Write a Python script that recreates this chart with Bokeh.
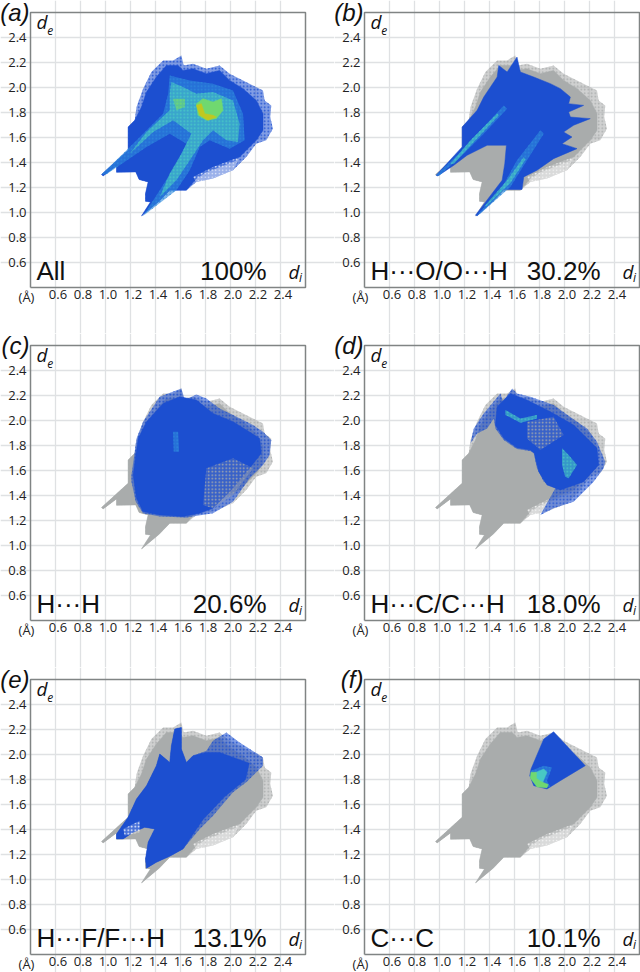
from bokeh.embed import file_html
from bokeh.resources import INLINE
from bokeh.plotting import figure
from bokeh.layouts import column, row
from bokeh.models import FixedTicker, Label, LinearAxis, Range1d, NumeralTickFormatter

TICKS = [0.6, 0.8, 1.0, 1.2, 1.4, 1.6, 1.8, 2.0, 2.2, 2.4]
PANEL_LETTERS = ["(a)", "(b)", "(c)", "(d)", "(e)", "(f)"]
CONTACTS = ["All", "H···O/O···H", "H···H", "H···C/C···H", "H···F/F···H", "C···C"]
PERCENTS = ["100%", "30.2%", "20.6%", "18.0%", "13.1%", "10.1%"]
FRAME_DI = [0.4, 2.6, 2.6, 0.4, 0.4]
FRAME_DE = [0.4, 0.4, 2.6, 2.6, 0.4]

GRAY, BLUE, MID, CYAN, GREEN, YELLOW = "#a9acac", "#1c4fd0", "#2d88dc", "#48c8c4", "#70d870", "#c0c820"

OUTER_DI = [1.288,1.36,1.32,1.32,1.341,1.269,1.242,1.088,1.088,0.981,0.968,1.181,1.181,1.234,1.248,1.301,1.367,1.461,1.541,1.607,1.626,1.70,1.807,1.913,1.993,2.10,2.26,2.273,2.326,2.318,2.339,2.286,2.206,2.126,2.02,1.86,1.727,1.647,1.514,1.429]
OUTER_DE = [0.973,1.085,1.09,1.152,1.245,1.264,1.325,1.322,1.373,1.293,1.304,1.498,1.684,1.738,1.844,1.991,2.124,2.217,2.217,2.257,2.177,2.19,2.15,2.177,2.11,2.057,1.977,1.897,1.857,1.764,1.671,1.578,1.551,1.445,1.338,1.272,1.245,1.178,1.178,1.09]
CORE_DI = [1.288,1.36,1.32,1.32,1.341,1.269,1.242,1.088,1.088,0.981,0.968,1.181,1.181,1.234,1.288,1.328,1.407,1.487,1.581,1.62,1.70,1.807,1.913,1.993,2.10,2.206,2.26,2.26,2.206,2.126,2.047,1.913,1.807,1.727,1.647,1.514,1.429]
CORE_DE = [0.973,1.085,1.09,1.152,1.245,1.264,1.325,1.322,1.373,1.293,1.304,1.498,1.684,1.738,1.844,1.964,2.084,2.177,2.177,2.137,2.15,2.11,2.137,2.057,1.991,1.897,1.791,1.658,1.578,1.498,1.418,1.365,1.325,1.272,1.178,1.178,1.09]
HOLES_DI = [1.70,1.86,2.073,2.02,1.86,1.727]
HOLES_DE = [1.285,1.365,1.445,1.338,1.272,1.245]

A_MID_DI = [1.514,1.674,1.86,2.02,2.10,2.113,1.993,1.834,1.754,1.674,1.567,1.30,1.434,1.567,1.647,1.514,1.328,1.008,0.968,1.221,1.461,1.501]
A_MID_DE = [2.097,2.057,2.031,1.977,1.791,1.578,1.511,1.578,1.525,1.338,1.178,0.973,1.178,1.391,1.551,1.631,1.525,1.306,1.304,1.551,1.791,1.951]
A_CYAN_DI = [1.527,1.62,1.727,1.86,2.02,2.073,2.06,1.967,1.86,1.78,1.674,1.567,1.434,1.514,1.607,1.687,1.541,1.381,1.194,1.328,1.514,1.514]
A_CYAN_DE = [2.044,2.004,1.951,1.964,1.897,1.711,1.565,1.578,1.658,1.578,1.418,1.258,1.125,1.312,1.471,1.631,1.738,1.644,1.471,1.644,1.818,1.951]
A_GREEN1_DI = [1.727,1.78,1.86,1.927,1.94,1.887,1.807,1.74]
A_GREEN1_DE = [1.871,1.911,1.884,1.911,1.818,1.751,1.738,1.778]
A_GREEN2_DI = [1.541,1.634,1.634,1.567]
A_GREEN2_DE = [1.911,1.911,1.844,1.818]
A_YELLOW_DI = [1.727,1.767,1.794,1.86,1.887,1.82,1.754]
A_YELLOW_DE = [1.857,1.871,1.79,1.778,1.764,1.738,1.778]

B_BLUE_DI = [0.973,1.181,1.181,1.301,1.354,1.461,1.474,1.541,1.62,1.647,1.754,1.887,1.967,2.047,2.033,2.153,2.033,2.047,2.206,2.073,1.993,2.06,1.98,2.10,1.913,1.78,1.674,1.66,1.514,1.421,1.301,1.288,1.501,1.522,1.535,1.381,1.221,1.115,0.987]
B_BLUE_DE = [1.298,1.525,1.684,1.818,1.924,2.084,2.177,2.124,2.244,2.124,2.084,2.031,1.991,1.924,1.871,1.857,1.804,1.764,1.751,1.698,1.644,1.604,1.551,1.511,1.431,1.338,1.285,1.184,1.184,1.085,0.973,0.979,1.258,1.391,1.538,1.538,1.458,1.378,1.293]
B_MID1_DI = [0.973,1.168,1.328,1.514,1.541,1.354,1.194,0.995]
B_MID1_DE = [1.298,1.485,1.658,1.857,1.831,1.631,1.471,1.293]
B_MID2_DI = [1.293,1.487,1.62,1.807,1.834,1.70,1.567,1.328]
B_MID2_DE = [0.973,1.178,1.418,1.658,1.631,1.418,1.205,0.992]
B_CYAN1_DI = [1.088,1.248,1.461,1.474,1.274,1.115]
B_CYAN1_DE = [1.391,1.578,1.791,1.778,1.565,1.391]
B_CYAN2_DI = [1.354,1.541,1.674,1.687,1.567,1.381]
B_CYAN2_DE = [1.045,1.258,1.445,1.423,1.237,1.059]

C_FRINGE_DI = [1.208,1.248,1.301,1.434,1.501,1.607,1.634,1.727,1.807,1.913,2.02,2.18,2.26,2.326,2.313,2.26,2.153,2.02,1.86,1.647,1.434,1.30,1.242,1.208]
C_FRINGE_DE = [1.565,1.857,1.991,2.19,2.217,2.257,2.164,2.209,2.177,2.097,2.044,1.964,1.911,1.844,1.724,1.644,1.538,1.351,1.258,1.224,1.232,1.258,1.351,1.511]
C_SOLID_DI = [1.221,1.261,1.328,1.461,1.594,1.727,1.86,2.02,2.233,2.246,2.153,1.993,1.86,1.754,1.62,1.434,1.30,1.248]
C_SOLID_DE = [1.565,1.857,1.991,2.137,2.19,2.164,2.057,1.991,1.857,1.738,1.618,1.431,1.298,1.258,1.232,1.245,1.272,1.378]
C_SPECK_DI = [1.807,2.02,2.18,2.02,1.86,1.78]
C_SPECK_DE = [1.618,1.698,1.618,1.405,1.298,1.325]
C_MID_DI = [1.541,1.581,1.589,1.546]
C_MID_DE = [1.911,1.911,1.751,1.751]

D_FRINGE_DI = [1.248,1.274,1.354,1.487,1.509,1.581,1.62,1.727,1.913,2.10,2.18,2.26,2.326,2.313,2.233,2.073,1.913,1.807,1.927,1.834,1.78,1.754,1.727,1.62,1.514,1.447,1.434,1.381,1.301]
D_FRINGE_DE = [1.818,1.937,2.057,2.217,2.15,2.257,2.217,2.19,2.124,1.991,1.937,1.831,1.671,1.618,1.511,1.351,1.298,1.245,1.458,1.511,1.618,1.738,1.756,1.772,1.844,1.937,2.017,1.937,1.897]
D_SOLID_DI = [1.447,1.461,1.567,1.70,1.887,2.073,2.26,2.273,2.153,1.967,1.86,1.794,1.759,1.727,1.62,1.514]
D_SOLID_DE = [1.964,2.11,2.217,2.164,2.07,1.964,1.778,1.644,1.511,1.445,1.485,1.591,1.738,1.764,1.783,1.858]
D_SPECK_DI = [1.70,1.913,1.993,1.807,1.70]
D_SPECK_DE = [1.991,2.03,1.884,1.764,1.857]
D_CYAN1_DI = [1.527,1.647,1.78,1.78,1.647,1.527]
D_CYAN1_DE = [2.084,2.017,2.044,2.017,1.983,2.044]
D_CYAN2_DI = [1.98,2.033,2.10,2.033,2.006,1.98]
D_CYAN2_DE = [1.778,1.724,1.644,1.538,1.551,1.644]

E_FRINGE_DI = [1.088,1.088,1.181,1.248,1.328,1.407,1.434,1.514,1.527,1.554,1.607,1.607,1.647,1.70,1.807,1.86,1.967,2.073,2.26,2.26,2.126,2.02,1.86,1.754,1.62,1.514,1.407,1.328,1.32,1.341,1.394,1.314,1.221,1.141]
E_FRINGE_DE = [1.325,1.365,1.498,1.644,1.751,1.911,2.004,1.937,2.07,2.204,2.217,2.044,1.937,1.991,2.031,2.11,2.177,2.097,1.977,1.911,1.778,1.698,1.511,1.405,1.245,1.186,1.138,1.091,1.165,1.298,1.405,1.418,1.378,1.325]
E_SOLID_DI = [1.088,1.088,1.181,1.248,1.328,1.407,1.434,1.514,1.527,1.554,1.607,1.607,1.647,1.70,1.807,1.913,2.15,2.12,1.95,1.78,1.62,1.514,1.407,1.328,1.32,1.341,1.394,1.314,1.221,1.141]
E_SOLID_DE = [1.325,1.365,1.498,1.644,1.751,1.911,2.004,1.937,2.07,2.204,2.217,2.044,1.937,1.991,2.017,2.017,1.93,1.80,1.66,1.48,1.245,1.186,1.138,1.091,1.165,1.298,1.405,1.418,1.378,1.325]
E_HOLES_DI = [1.141,1.274,1.274,1.154]
E_HOLES_DE = [1.405,1.471,1.378,1.351]

F_BLUE_DI = [1.732,1.834,1.913,1.98,2.166,1.967,1.86,1.754,1.722]
F_BLUE_DE = [1.884,2.124,2.182,2.11,1.911,1.791,1.724,1.751,1.831]
F_MID_DI = [1.732,1.834,1.90,1.86,1.887,1.78,1.722]
F_MID_DE = [1.871,1.911,1.897,1.791,1.738,1.751,1.831]
F_CYAN_DI = [1.74,1.834,1.86,1.82,1.86,1.78,1.727]
F_CYAN_DE = [1.844,1.884,1.858,1.764,1.738,1.751,1.818]
F_GREEN_DI = [1.732,1.775,1.775,1.81,1.87,1.86,1.78,1.727]
F_GREEN_DE = [1.858,1.858,1.81,1.785,1.76,1.735,1.74,1.81]

# (opacity of the area under its stipple, colour, di, de); None means solid
DOTS, SOFT, SPECK = 0.55, 0.6, 0.2
BASE = [(DOTS, GRAY, OUTER_DI, OUTER_DE), (None, GRAY, CORE_DI, CORE_DE), (SPECK, "white", HOLES_DI, HOLES_DE)]
LAYERS = [
    [(DOTS, BLUE, OUTER_DI, OUTER_DE), (None, BLUE, CORE_DI, CORE_DE), (SPECK, "white", HOLES_DI, HOLES_DE),
     (SOFT, MID, A_MID_DI, A_MID_DE), (SOFT, CYAN, A_CYAN_DI, A_CYAN_DE), (None, GREEN, A_GREEN1_DI, A_GREEN1_DE),
     (SOFT, GREEN, A_GREEN2_DI, A_GREEN2_DE), (None, YELLOW, A_YELLOW_DI, A_YELLOW_DE)],
    BASE + [(None, BLUE, B_BLUE_DI, B_BLUE_DE), (SOFT, MID, B_MID1_DI, B_MID1_DE), (SOFT, MID, B_MID2_DI, B_MID2_DE),
            (SOFT, CYAN, B_CYAN1_DI, B_CYAN1_DE), (SOFT, CYAN, B_CYAN2_DI, B_CYAN2_DE)],
    BASE + [(DOTS, BLUE, C_FRINGE_DI, C_FRINGE_DE), (None, BLUE, C_SOLID_DI, C_SOLID_DE),
            (SPECK, GRAY, C_SPECK_DI, C_SPECK_DE), (SOFT, MID, C_MID_DI, C_MID_DE)],
    BASE + [(DOTS, BLUE, D_FRINGE_DI, D_FRINGE_DE), (None, BLUE, D_SOLID_DI, D_SOLID_DE),
            (SPECK, GRAY, D_SPECK_DI, D_SPECK_DE), (SOFT, CYAN, D_CYAN1_DI, D_CYAN1_DE), (SOFT, CYAN, D_CYAN2_DI, D_CYAN2_DE)],
    BASE + [(DOTS, BLUE, E_FRINGE_DI, E_FRINGE_DE), (None, BLUE, E_SOLID_DI, E_SOLID_DE), (SPECK, "white", E_HOLES_DI, E_HOLES_DE)],
    BASE + [(None, BLUE, F_BLUE_DI, F_BLUE_DE), (SOFT, MID, F_MID_DI, F_MID_DE), (None, CYAN, F_CYAN_DI, F_CYAN_DE), (None, GREEN, F_GREEN_DI, F_GREEN_DE)],
]

SANS, TICKF = "Liberation Sans", "Open Sans"


def add_label(p, x, y, text, font, size, style="normal", align="left", color="#111111"):
    # y is the text's baseline; Bokeh's "bottom" anchor sits a descent below it
    p.add_layout(Label(x=x, y=y - 0.2 * size / 125, text=text, text_font=font, text_font_size=f"{size}px",
                       text_font_style=style, text_align=align, text_baseline="bottom", text_color=color))


def panel(i, w, h, bottom):
    p = figure(width=w, height=h, output_backend="svg", toolbar_location=None,
               x_range=(0.16, 0.16 + w / 125), y_range=(0.4 - bottom / 125, 0.4 - bottom / 125 + h / 125),
               min_border=0, background_fill_color="white", border_fill_color="white")
    p.outline_line_color = None
    p.xaxis.visible = False
    p.xgrid.ticker = FixedTicker(ticks=TICKS)
    p.ygrid.ticker = FixedTicker(ticks=TICKS)
    for g in (p.xgrid, p.ygrid):
        g.grid_line_color = "#dfe1e3"
        g.grid_line_width = 1.3
        g.bounds = (0.4, 2.6)
    p.extra_x_ranges = {"labels": Range1d(0.14, 0.14 + w / 125)}
    ax = LinearAxis(x_range_name="labels", ticker=FixedTicker(ticks=TICKS), fixed_location=0.4,
                    formatter=NumeralTickFormatter(format="0.0"))
    p.add_layout(ax, "below")
    ya = p.yaxis[0]
    ya.fixed_location = 0.4
    ya.ticker = FixedTicker(ticks=TICKS)
    ya.formatter = NumeralTickFormatter(format="0.0")
    for a in (ax, ya):
        a.axis_line_color = None
        a.major_tick_line_color = None
        a.minor_tick_line_color = None
        a.major_tick_out = 0
        a.major_tick_in = 0
        a.minor_tick_out = 0
        a.minor_tick_in = 0
        a.major_label_text_font = TICKF
        a.major_label_text_font_size = "13px"
        a.major_label_text_color = "#222222"
    ax.major_label_standoff = 2
    ya.major_label_standoff = 4
    for alpha, colour, di, de in LAYERS[i]:
        if alpha is None:
            p.patch(di, de, fill_color=colour, line_color=colour, line_width=0.5)
        else:
            p.patch(di, de, fill_color=colour, fill_alpha=alpha, line_color=None, hatch_pattern="dot",
                    hatch_color=colour, hatch_scale=3.5, hatch_weight=1.5)
    p.line(FRAME_DI, FRAME_DE, line_color="#808484", line_width=1.5)
    add_label(p, 0.392, 2.532, PANEL_LETTERS[i], SANS, 24, "italic", "right")
    add_label(p, 0.448, 2.45, "d", TICKF, 19, "italic")
    add_label(p, 0.533, 2.438, "e", TICKF, 12, "italic")
    add_label(p, 2.464, 0.448, "d", TICKF, 19, "italic")
    add_label(p, 2.547, 0.432, "i", TICKF, 12, "italic")
    add_label(p, 0.448, 0.456, CONTACTS[i], SANS, 26)
    add_label(p, 2.288, 0.456, PERCENTS[i], SANS, 26, align="right")
    add_label(p, 0.368, 0.274, "(Å)", TICKF, 13, align="center", color="#222222")
    return p


rows = []
for k, (h, bottom) in enumerate([(333, 46), (334, 47), (305, 18)]):
    rows.append(row(panel(2 * k, 334, h, bottom), panel(2 * k + 1, 306, h, bottom), spacing=0))
page = column(*rows, spacing=0)
open("out.html", "w").write(file_html(page, INLINE))
